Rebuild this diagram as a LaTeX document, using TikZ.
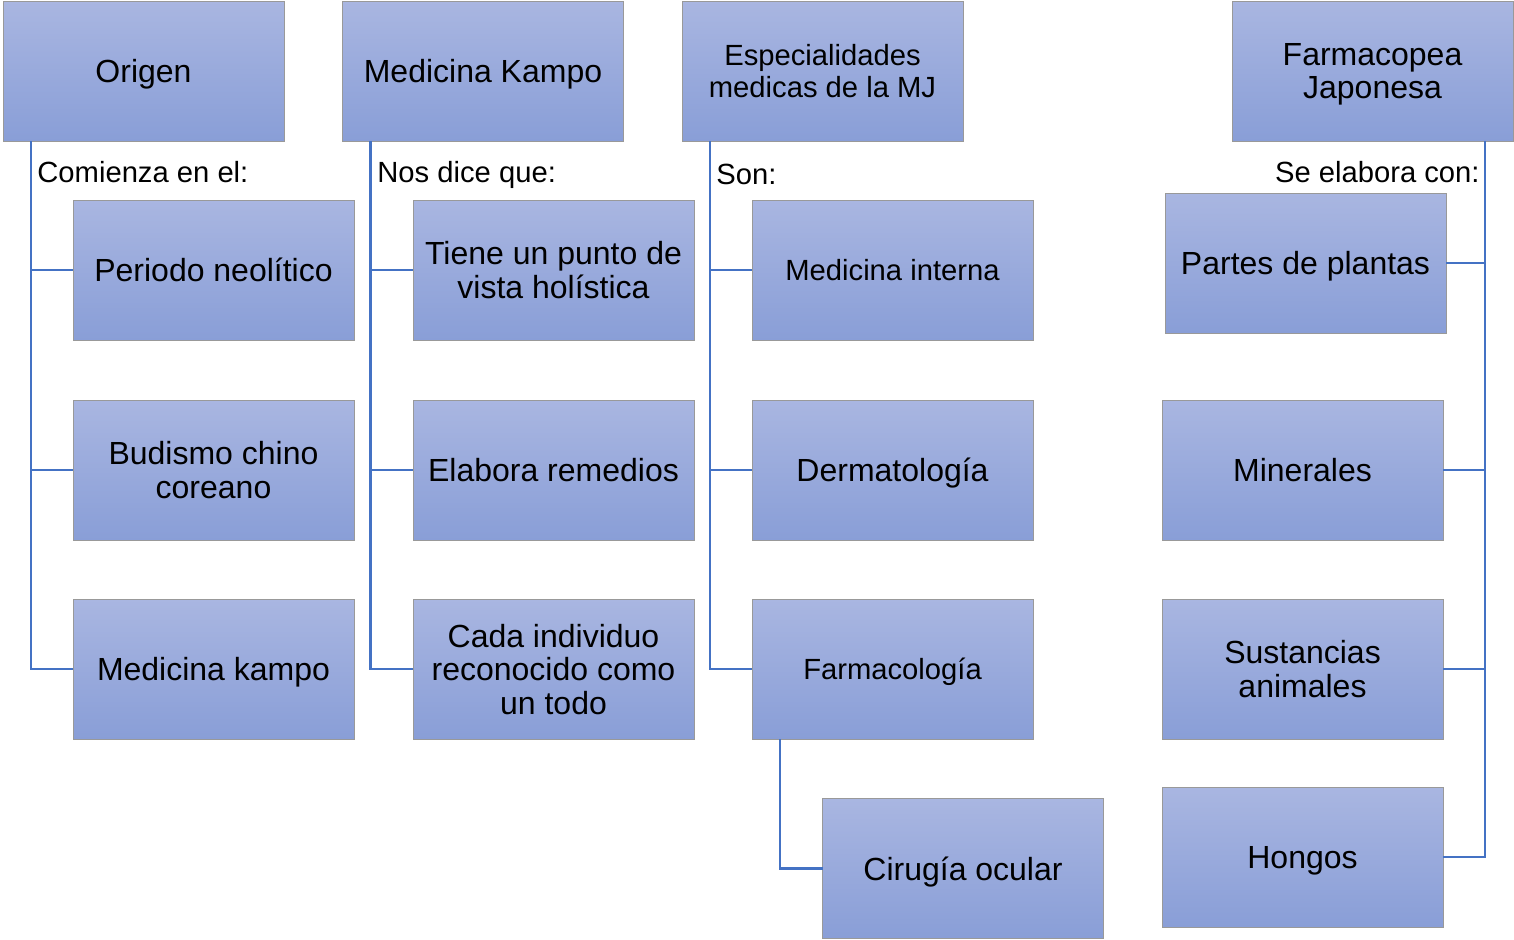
\documentclass[tikz,border=0pt]{standalone}
\usepackage{fontspec}
\setmainfont{Liberation Sans}
\definecolor{boxtop}{RGB}{169,182,225}
\definecolor{boxbot}{RGB}{137,158,215}
\definecolor{linkblue}{RGB}{68,114,196}
\tikzstyle{box} = [rectangle, minimum width=140.5pt, minimum height=70pt, inner sep=0pt, outer sep=0pt, text centered, align=center, text depth=0pt, draw=gray!80, line width=0.5pt, top color=boxtop, bottom color=boxbot, font=\fontsize{16}{16.8}\selectfont]
\tikzstyle{boxs} = [box, font=\fontsize{14.6}{15.6}\selectfont]
\tikzstyle{lbl} = [inner sep=0pt, font=\fontsize{14.6}{15.6}\selectfont]
\tikzstyle{link} = [line width=1.2pt, draw=linkblue]

\begin{document}
\begin{tikzpicture}[x=0.5pt,y=-0.5pt]

\useasboundingbox (0,0) rectangle (1514,939);

\node (origen) [box] at (143.5,71) {Origen};
\node (kampo) [box] at (483,71) {Medicina Kampo};
\node (espec) [boxs] at (822.5,71) {Especialidades\\ medicas de la MJ};
\node (farmaco) [box] at (1372.5,71) {Farmacopea\\ Japonesa};


\node (neolit) [box] at (213.5,270) {Periodo neolítico};
\node (budismo) [box] at (213.5,470) {Budismo chino\\ coreano};
\node (kampo2) [box] at (213.5,669) {Medicina kampo};


\node (holis) [box] at (553.5,270) {Tiene un punto de\\ vista holística};
\node (remed) [box] at (553.5,470) {Elabora remedios};
\node (indiv) [box] at (553.5,669) {Cada individuo\\ reconocido como\\ un todo};


\node (interna) [boxs] at (892.5,270) {Medicina interna};
\node (derma) [box] at (892.5,470) {Dermatología};
\node (farmacol) [boxs] at (892.5,669) {Farmacología};
\node (ocular) [box] at (963,868.5) {Cirugía ocular};


\node (plantas) [box] at (1305.5,263) {Partes de plantas};
\node (miner) [box] at (1302.5,470) {Minerales};
\node (sustan) [box] at (1302.5,669) {Sustancias\\ animales};
\node (hongos) [box] at (1302.5,857) {Hongos};


\node (comienza) [lbl,anchor=base west] at (37,182) {Comienza en el:};
\node (nosdice) [lbl,anchor=base west] at (377,182) {Nos dice que:};
\node (son) [lbl,anchor=base west] at (716,184) {Son:};
\node (elabora) [lbl,anchor=base east] at (1480,182) {Se elabora con:};


\draw[link] ([xshift=14pt]origen.south west) |- (neolit.west);
\draw[link] ([xshift=14pt]origen.south west) |- (budismo.west);
\draw[link] ([xshift=14pt]origen.south west) |- (kampo2.west);

\draw[link] ([xshift=14pt]kampo.south west) |- (holis.west);
\draw[link] ([xshift=14pt]kampo.south west) |- (remed.west);
\draw[link] ([xshift=14pt]kampo.south west) |- (indiv.west);

\draw[link] ([xshift=14pt]espec.south west) |- (interna.west);
\draw[link] ([xshift=14pt]espec.south west) |- (derma.west);
\draw[link] ([xshift=14pt]espec.south west) |- (farmacol.west);
\draw[link] ([xshift=14pt]farmacol.south west) |- (ocular.west);

\draw[link] ([xshift=-14pt]farmaco.south east) |- (plantas.east);
\draw[link] ([xshift=-14pt]farmaco.south east) |- (miner.east);
\draw[link] ([xshift=-14pt]farmaco.south east) |- (sustan.east);
\draw[link] ([xshift=-14pt]farmaco.south east) |- (hongos.east);

\end{tikzpicture}
\end{document}
